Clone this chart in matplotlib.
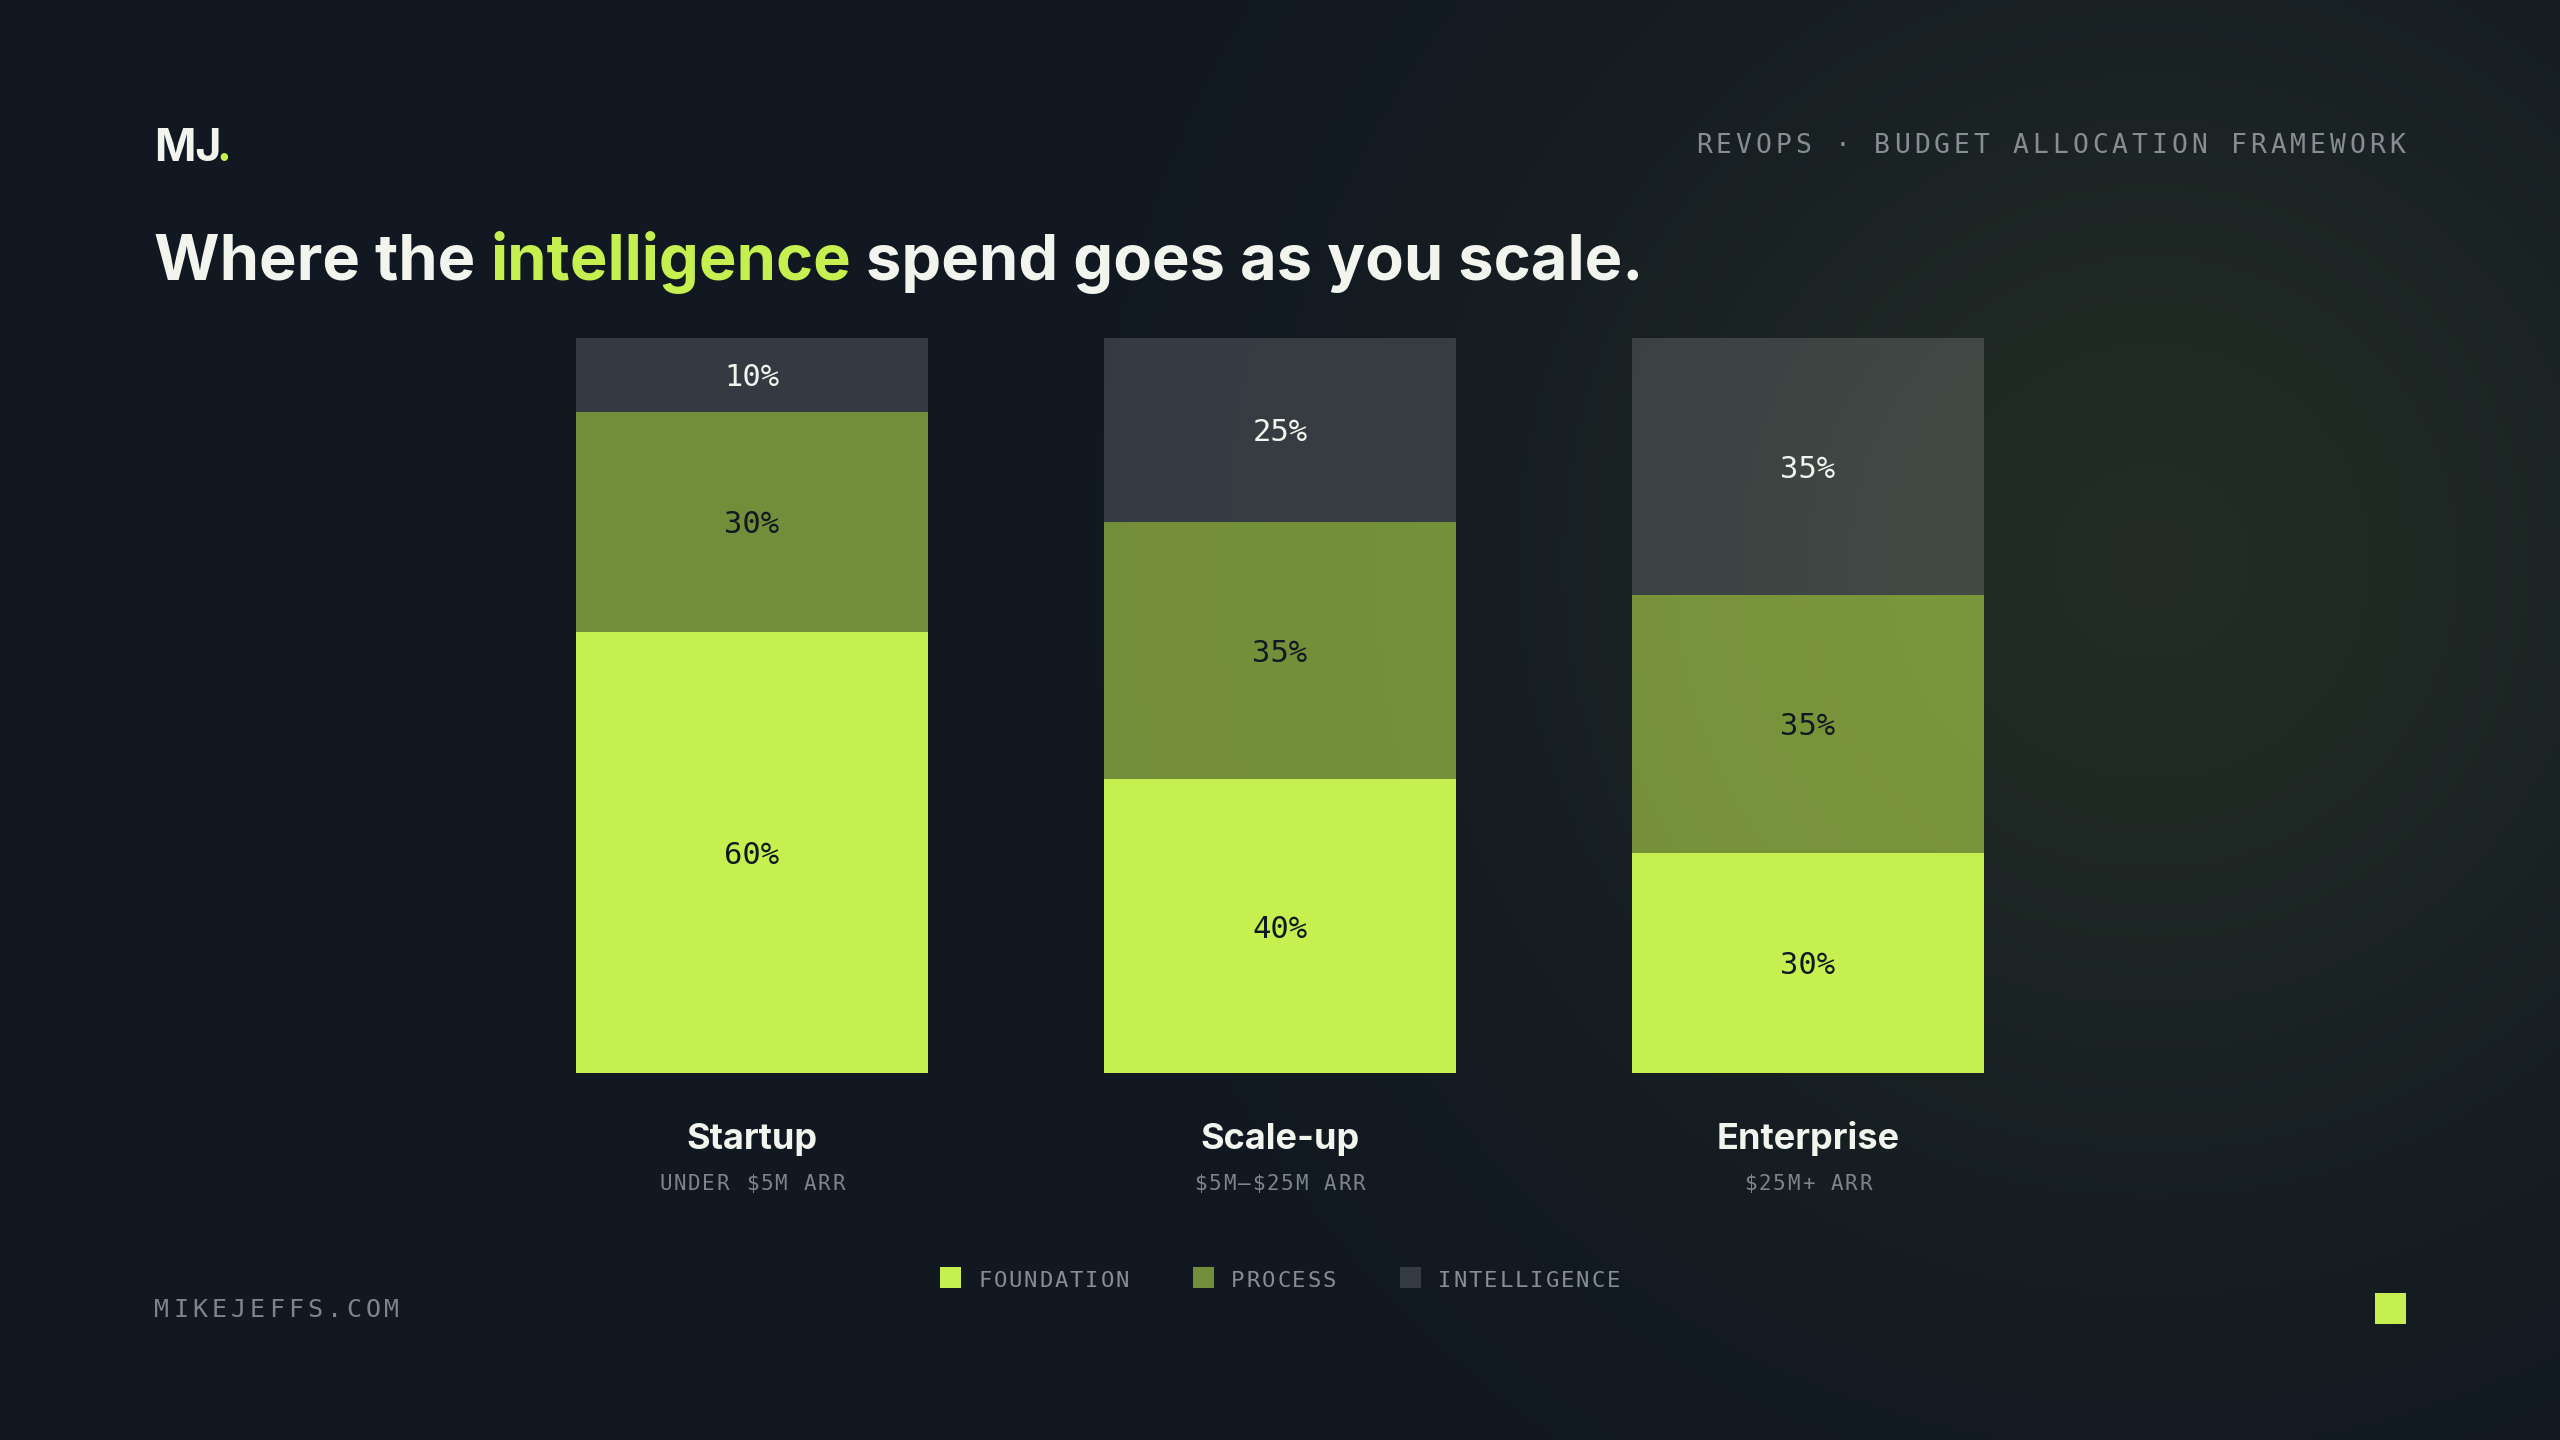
import numpy as np
import matplotlib
matplotlib.use("Agg")
import matplotlib.pyplot as plt
from matplotlib.patches import Rectangle

W, H, DPI = 2560, 1440, 100
BASE = np.array([17, 24, 33]) / 255
LIME = "#c5f04f"; LIME_RGB = np.array([197, 240, 79]) / 255
WHITE = "#f2f4ee"; DARK = "#111821"
GRAY = "#878d93"; GRAY2 = "#7d848b"
SANS = "Inter"; MONO = "DejaVu Sans Mono"

# ---- data ----
tiers = ["Startup", "Scale-up", "Enterprise"]
ranges = ["UNDER $5M ARR", "$5M\u2013$25M ARR", "$25M+ ARR"]
layers = ["FOUNDATION", "PROCESS", "INTELLIGENCE"]
foundation = [60, 40, 30]
process = [30, 35, 35]
intelligence = [10, 25, 35]

# layer styles: colour, alpha, label colour
styles = [(LIME, 1.0, DARK), (LIME, 0.55, DARK), ("#ffffff", 0.15, WHITE)]

fig = plt.figure(figsize=(W / DPI, H / DPI), dpi=DPI)
fig.patch.set_facecolor(DARK)

# background axes in pixel coordinates (y down)
bg = fig.add_axes([0, 0, 1, 1])
yy, xx = np.mgrid[0:H:4, 0:W:4]
glow = 0.095 * np.exp(-((xx - 2150) ** 2 + (yy - 560) ** 2) / (2 * 430.0 ** 2))
img = BASE + glow[..., None] * (LIME_RGB - BASE)
bg.imshow(img, extent=(0, W, H, 0), interpolation="bilinear", aspect="auto", zorder=0)
bg.set_xlim(0, W); bg.set_ylim(H, 0); bg.axis("off")

renderer = fig.canvas.get_renderer()


def runs(x, y, parts, size):
    """Bold sans text made of coloured runs, placed one after another."""
    def width(s):
        t = bg.text(0, 0, s, fontsize=size, family=SANS, weight="bold")
        w = t.get_window_extent(renderer).width
        t.remove()
        return w
    space = width("M M") - width("MM")
    for s, c, gap, kern in parts:
        x += kern
        t = bg.text(x, y, s, fontsize=size, family=SANS, weight="bold",
                    color=c, va="baseline", ha="left")
        x += t.get_window_extent(renderer).width + (space if gap else 0)


def spaced(x, y, s, size, pitch, color, ha="left"):
    """Letter-spaced mono text, one glyph per slot."""
    adv = 0.602 * size * DPI / 72
    total = (len(s) - 1) * pitch + adv
    x0 = {"left": x, "right": x - total, "center": x - total / 2}[ha]
    for i, ch in enumerate(s):
        bg.text(x0 + adv / 2 + i * pitch, y, ch, fontsize=size, family=MONO,
                color=color, ha="center", va="baseline")
    return total


# ---- header ----
runs(154, 161, [("MJ", WHITE, False, 0), (".", LIME, False, -5)], 32)
spaced(2405, 153, "REVOPS \u00b7 BUDGET ALLOCATION FRAMEWORK", 19, 19.8, GRAY, ha="right")
runs(154, 280, [("Where the", WHITE, True, 0), ("intelligence", LIME, True, 0),
                ("spend goes as you scale.", WHITE, False, 0)], 45.5)

# ---- bars ----
ax = fig.add_axes([224 / W, (H - 1073) / H, 2112 / W, 735 / H])
ax.set_xlim(-1, 3); ax.set_ylim(0, 100); ax.axis("off")
ax.patch.set_alpha(0)
x = np.arange(len(tiers))
bottom = np.zeros(len(tiers))
for vals, (col, alpha, tcol) in zip([foundation, process, intelligence], styles):
    vals = np.array(vals)
    ax.bar(x, vals, width=2 / 3, bottom=bottom, color=col, alpha=alpha, linewidth=0)
    for xi, b, v in zip(x, bottom, vals):
        ax.text(xi, b + v / 2, f"{v}%", ha="center", va="center_baseline",
                fontsize=22, family=MONO, color=tcol)
    bottom += vals

# category labels under bars
fig.canvas.draw()
for xi, name, rng in zip(x, tiers, ranges):
    px = ax.transData.transform((xi, 0))[0]
    bg.text(px, 1149, name, fontsize=26, family=SANS, weight="bold",
            color=WHITE, ha="center", va="baseline")
    spaced(px, 1190, rng, 15, 14.4, GRAY2, ha="center")

# ---- legend ----
sq, gap_txt, gap_item, pitch, lsize = 21, 17, 64, 15.3, 16
adv = 0.602 * lsize * DPI / 72
widths = [sq + gap_txt + (len(n) - 1) * pitch + adv for n in layers]
lx = W / 2 - (sum(widths) + gap_item * (len(layers) - 1)) / 2
for name, (col, alpha, _), w in zip(layers, styles, widths):
    bg.add_patch(Rectangle((lx, 1267), sq, sq, facecolor=col, alpha=alpha,
                           linewidth=0, zorder=2))
    spaced(lx + sq + gap_txt, 1287, name, lsize, pitch, GRAY)
    lx += w + gap_item

# ---- footer ----
spaced(154, 1317, "MIKEJEFFS.COM", 18, 19.2, GRAY2)
bg.add_patch(Rectangle((2375, 1293), 31, 31, facecolor=LIME, linewidth=0, zorder=2))

fig.savefig("out.png", dpi=DPI, facecolor=DARK)
